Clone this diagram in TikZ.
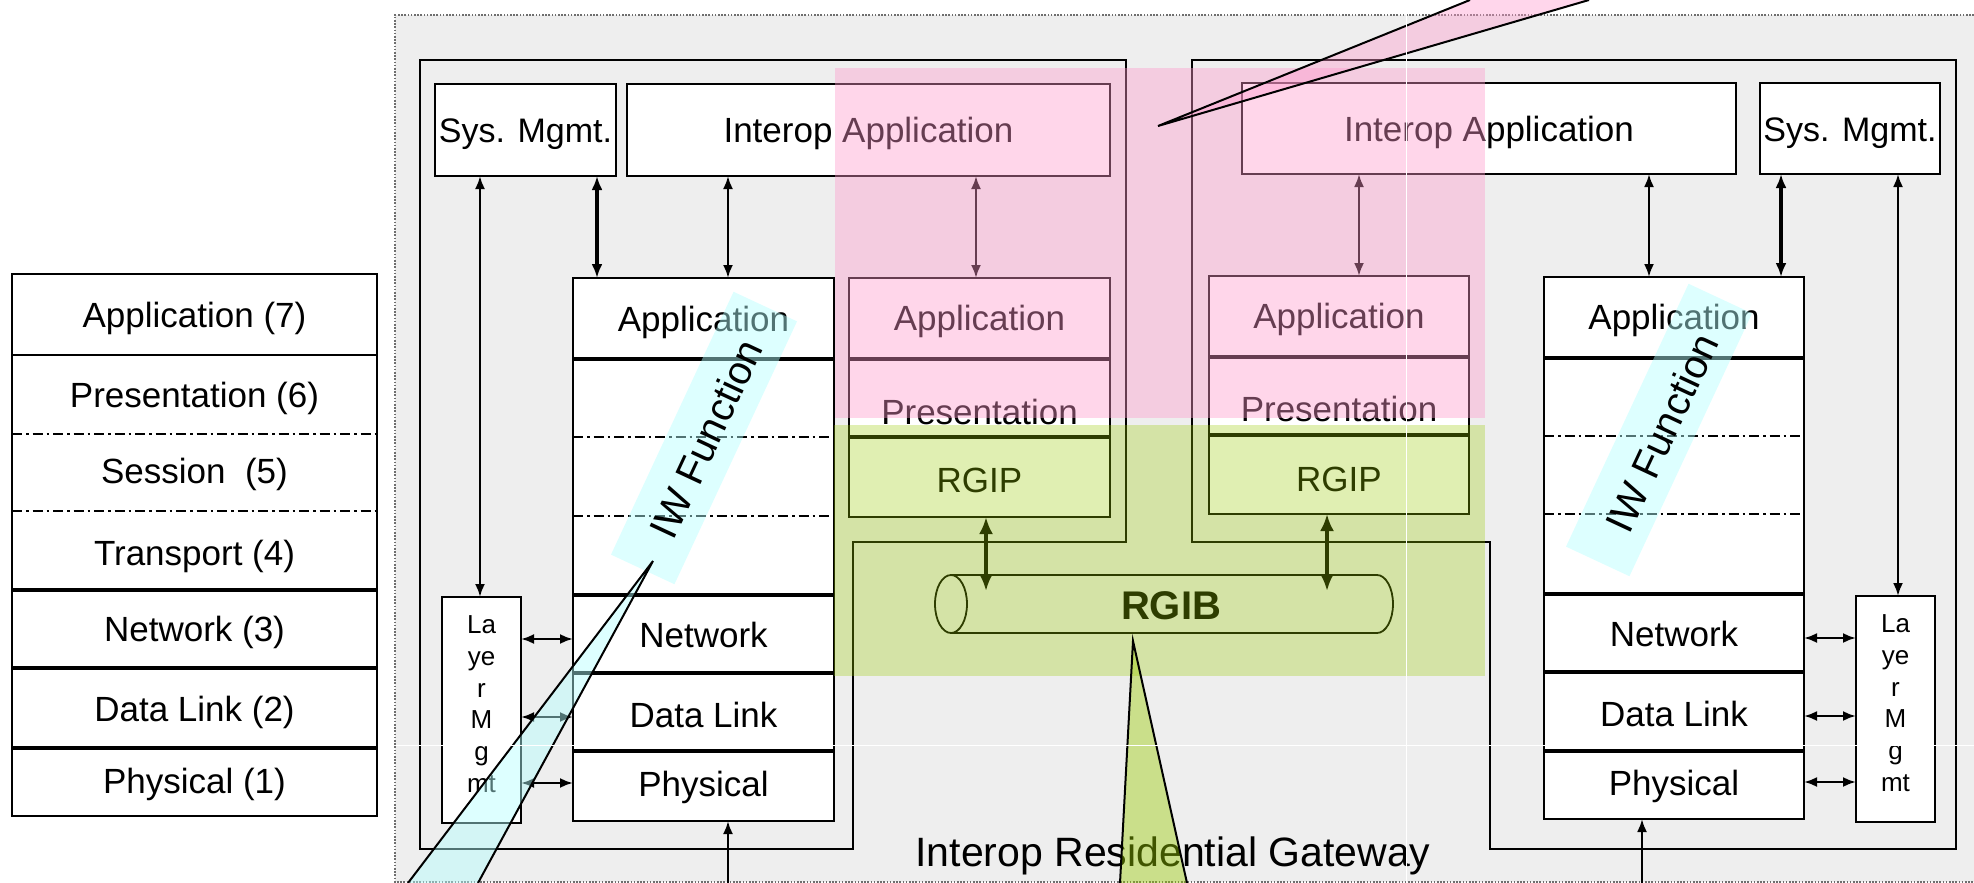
\documentclass[tikz,border=0pt]{standalone}
\usepackage{fontspec}
\setmainfont{Liberation Sans}
\usetikzlibrary{arrows.meta,calc}
\definecolor{bggray}{RGB}{238,238,238}
\definecolor{framegray}{RGB}{110,110,110}
\definecolor{pinkC}{RGB}{255,153,204}
\definecolor{greenC}{RGB}{153,204,0}
\definecolor{cyanC}{RGB}{180,255,255}
\newcommand{\fsz}[1]{\fontsize{#1}{#1}\selectfont}

\begin{document}
\begin{tikzpicture}[x=1pt, y=-1pt,
  every node/.style={inner sep=0pt, outer sep=0pt},
  box/.style={draw, line width=2.5pt, fill=white, font=\fsz{35}, text height=25pt, text depth=0pt},
  lbl/.style={font=\fsz{35}, text height=25pt, text depth=0pt},
  lmtxt/.style={font=\fsz{26}},
  outline/.style={line width=2.8pt, line join=miter},
  sepline/.style={line width=3.5pt},
  thinsep/.style={line width=2.5pt},
  dashdot/.style={line width=2.2pt, dash pattern=on 10pt off 4pt on 2.5pt off 4pt},
  link/.style={line width=2.4pt, {Latex[length=13pt,width=10pt]}-{Latex[length=13pt,width=10pt]}},
  boldlink/.style={line width=3.4pt, {Latex[length=14pt,width=11pt]}-{Latex[length=14pt,width=11pt]}},
  uplink/.style={line width=2.4pt, -{Latex[length=13pt,width=10pt]}},
  buslink/.style={line width=4.5pt, {Latex[length=17pt,width=14pt]}-{Latex[length=17pt,width=14pt]}},
  band/.style={fill=cyanC, fill opacity=0.45, minimum width=290pt, minimum height=70pt, rotate=65},
  iwtxt/.style={font=\fsz{40}, text height=28.6pt, text depth=0pt, rotate=65},
  tail/.style={line width=2pt, line join=miter},
]
\path[use as bounding box] (0,0) rectangle (1974,883);
\clip (0,0) rectangle (1974,883);

% gateway frame
\fill[bggray] (395,15) rectangle (1990,882);
\draw[framegray, line width=1.6pt, dash pattern=on 1.6pt off 1.6pt]
  (1990,15) -- (395,15) -- (395,882) -- (1990,882);

% OSI reference stack
\node[draw, line width=2.5pt, minimum width=365pt, minimum height=542pt] (osi) at (194.5,545) {};
\draw[thinsep] (osi.west |- 0,355) -- (osi.east |- 0,355);
\draw[dashdot] (osi.west |- 0,434) -- (osi.east |- 0,434);
\draw[dashdot] (osi.west |- 0,511) -- (osi.east |- 0,511);
\draw[sepline] (osi.west |- 0,590) -- (osi.east |- 0,590);
\draw[sepline] (osi.west |- 0,668) -- (osi.east |- 0,668);
\draw[sepline] (osi.west |- 0,748) -- (osi.east |- 0,748);
\node[lbl] (osi7) at (194.5,315) {Application (7)};
\node[lbl] (osi6) at (194.5,395) {Presentation (6)};
\node[lbl] (osi5) at (194.5,471) {Session~~(5)};
\node[lbl] (osi4) at (194.5,553) {Transport (4)};
\node[lbl] (osi3) at (194.5,629) {Network (3)};
\node[lbl] (osi2) at (194.5,709) {Data Link (2)};
\node[lbl] (osi1) at (194.5,781) {Physical (1)};

% the two gateway halves
\draw[outline] (420,60) -- (1126,60) -- (1126,542) -- (853,542) -- (853,849) -- (420,849) -- cycle;
\draw[outline] (1192,60) -- (1956,60) -- (1956,849) -- (1490,849) -- (1490,542) -- (1192,542) -- cycle;

% top row boxes
\node[box, font=\fsz{34}, minimum width=181pt, minimum height=92pt] (sysL) at (525.5,130) {Sys. Mgmt.};
\node[box, minimum width=483pt, minimum height=92pt] (iaL) at (868.5,130) {Interop Application};
\node[box, minimum width=494pt, minimum height=91pt] (iaR) at (1489,128.5) {Interop Application};
\node[box, font=\fsz{34}, minimum width=180pt, minimum height=91pt] (sysR) at (1850,128.5) {Sys. Mgmt.};

% left protocol stack
\node[box, minimum width=261pt, minimum height=543pt] (stL) at (703.5,549.5) {};
\draw[sepline] (stL.west |- 0,359) -- (stL.east |- 0,359);
\draw[dashdot] (stL.west |- 0,437) -- (stL.east |- 0,437);
\draw[dashdot] (stL.west |- 0,516) -- (stL.east |- 0,516);
\draw[sepline] (stL.west |- 0,595) -- (stL.east |- 0,595);
\draw[sepline] (stL.west |- 0,673) -- (stL.east |- 0,673);
\draw[sepline] (stL.west |- 0,751) -- (stL.east |- 0,751);
\node[lbl] (stLapp) at (703.5,319) {Application};
\node[lbl] (stLnet) at (703.5,635) {Network};
\node[lbl] (stLdl) at (703.5,715) {Data Link};
\node[lbl] (stLph) at (703.5,784) {Physical};

% right protocol stack
\node[box, minimum width=260pt, minimum height=542pt] (stR) at (1674,548) {};
\draw[sepline] (stR.west |- 0,358) -- (stR.east |- 0,358);
\draw[dashdot] (stR.west |- 0,436) -- (stR.east |- 0,436);
\draw[dashdot] (stR.west |- 0,514) -- (stR.east |- 0,514);
\draw[sepline] (stR.west |- 0,594) -- (stR.east |- 0,594);
\draw[sepline] (stR.west |- 0,672) -- (stR.east |- 0,672);
\draw[sepline] (stR.west |- 0,751) -- (stR.east |- 0,751);
\node[lbl] (stRapp) at (1674,317) {Application};
\node[lbl] (stRnet) at (1674,634) {Network};
\node[lbl] (stRdl) at (1674,714) {Data Link};
\node[lbl] (stRph) at (1674,783) {Physical};

% gateway-side stacks
\node[box, minimum width=261pt, minimum height=239pt] (pkL) at (979.5,397.5) {};
\draw[sepline] (pkL.west |- 0,359) -- (pkL.east |- 0,359);
\draw[sepline] (pkL.west |- 0,437) -- (pkL.east |- 0,437);
\node[lbl] (pkLapp) at (979.5,318) {Application};
\node[lbl] (pkLpre) at (979.5,411.5) {Presentation};
\node[lbl] (pkLrgip) at (979.5,480) {RGIP};

\node[box, minimum width=260pt, minimum height=238pt] (pkR) at (1339,395) {};
\draw[sepline] (pkR.west |- 0,357) -- (pkR.east |- 0,357);
\draw[sepline] (pkR.west |- 0,435) -- (pkR.east |- 0,435);
\node[lbl] (pkRapp) at (1339,316) {Application};
\node[lbl] (pkRpre) at (1339,409) {Presentation};
\node[lbl] (pkRrgip) at (1339,479) {RGIP};

% layer management boxes
\node[box, minimum width=79pt, minimum height=226pt] (lmL) at (481.5,710) {};
\foreach \t/\yy [count=\i] in {La/633,ye/665,r/697,M/728,g/760,mt/792}
  \node[lmtxt, anchor=base] (lmL\i) at (481.5,\yy) {\t};
\node[box, minimum width=79pt, minimum height=226pt] (lmR) at (1895.5,709) {};
\foreach \t/\yy [count=\i] in {La/632,ye/664,r/696,M/727,g/759,mt/791}
  \node[lmtxt, anchor=base] (lmR\i) at (1895.5,\yy) {\t};

% RGIB bus
\draw[line width=1.8pt] (951,575) -- (1377,575)
  arc[start angle=-90, end angle=90, x radius=16, y radius=29] -- (951,633);
\draw[line width=1.8pt] (951,604) ellipse [x radius=16, y radius=29];
\node[font=\bfseries\fsz{40}, text height=28.6pt, text depth=0pt] (rgib) at (1171,605) {RGIB};

% vertical connectors
\coordinate (xA) at (480,0);
\coordinate (xB) at (597,0);
\coordinate (xC) at (728,0);
\coordinate (xD) at (976,0);
\coordinate (xE) at (1359,0);
\coordinate (xF) at (1649,0);
\coordinate (xG) at (1781,0);
\coordinate (xH) at (1898,0);
\draw[link] (sysL.south -| xA) -- (lmL.north -| xA);
\draw[boldlink] (sysL.south -| xB) -- (stL.north -| xB);
\draw[link] (iaL.south -| xC) -- (stL.north -| xC);
\draw[link] (iaL.south -| xD) -- (pkL.north -| xD);
\draw[link] (iaR.south -| xE) -- (pkR.north -| xE);
\draw[link] (iaR.south -| xF) -- (stR.north -| xF);
\draw[boldlink] (sysR.south -| xG) -- (stR.north -| xG);
\draw[link] (sysR.south -| xH) -- (lmR.north -| xH);

% layer management links
\foreach \yy in {639,717,783}
  \draw[link] (lmL.east |- 0,\yy) -- (stL.west |- 0,\yy);
\foreach \yy in {638,716,782}
  \draw[link] (stR.east |- 0,\yy) -- (lmR.west |- 0,\yy);

% physical inputs
\coordinate (inL) at (728,890);
\coordinate (inR) at (1642,890);
\draw[uplink] (inL) -- (stL.south -| inL);
\draw[uplink] (inR) -- (stR.south -| inR);

% RGIP to RGIB
\coordinate (busL) at (986,591);
\coordinate (busR) at (1327,591);
\draw[buslink] (pkL.south -| busL) -- (busL);
\draw[buslink] (pkR.south -| busR) -- (busR);

% gateway label
\node[font=\fsz{41}, text height=29.4pt, text depth=0pt] (title) at (1173,852) {Interop Residential Gateway};

% highlighted regions
\fill[pinkC, fill opacity=0.4] (835,68) rectangle (1485,418);
\fill[greenC, fill opacity=0.3] (834,425) rectangle (1485,676);

% interworking function bands
\node[band] (bandL) at (704,438) {};
\node[iwtxt] (iwL) at (706,439) {IW Function};
\node[band] (bandR) at (1659,430) {};
\node[iwtxt] (iwR) at (1662,433) {IW Function};

% callout tails
\fill[pinkC, fill opacity=0.4] (1470,0) -- (1158,126) -- (1589,0) -- cycle;
\draw[tail] (1470,0) -- (1158,126) -- (1589,0);
\fill[greenC, fill opacity=0.42] (1120,883) -- (1133,641) -- (1187,883) -- cycle;
\draw[tail] (1120,883) -- (1133,641) -- (1187,883);
\fill[cyanC, fill opacity=0.45] (408,883) -- (653,561) -- (478,883) -- cycle;
\draw[tail] (408,883) -- (653,561) -- (478,883);

% guide lines
\draw[white, line width=1pt] (1406,0) -- (1406,883);
\draw[white, line width=1pt] (395,745) -- (1974,745);
\end{tikzpicture}
\end{document}
